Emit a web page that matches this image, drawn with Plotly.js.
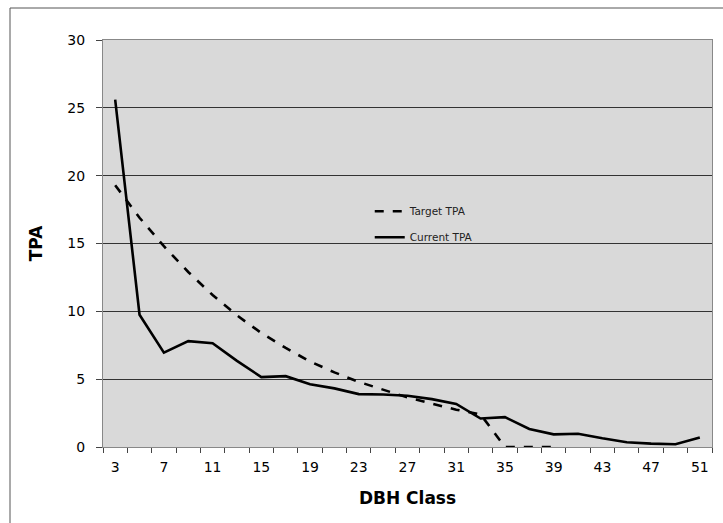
<!DOCTYPE html>
<html>
<head>
<meta charset="utf-8">
<script src="https://cdn.plot.ly/plotly-3.0.1.min.js"></script>
<style>
html,body{margin:0;padding:0;background:#fff;}
#chart{width:723px;height:523px;}
</style>
</head>
<body>
<div id="chart"></div>
<script>
const dbhClasses = [3,5,7,9,11,13,15,17,19,21,23,25,27,29,31,33,35,37,39,41,43,45,47,49,51];
const currentTPA = [25.6,9.75,6.95,7.8,7.65,6.35,5.15,5.22,4.62,4.32,3.9,3.87,3.78,3.53,3.17,2.1,2.2,1.33,0.93,0.98,0.64,0.35,0.25,0.2,0.7];
const targetClasses = [3,5,7,9,11,13,15,17,19,21,23,25,27,29,31,33,35,37,39];
const targetTPA = [19.3,16.9,14.8,12.9,11.2,9.7,8.4,7.3,6.3,5.5,4.8,4.2,3.65,3.2,2.75,2.4,0,0,0];
const xLabelVals = [3,7,11,15,19,23,27,31,35,39,43,47,51];
const yTickVals = [0,5,10,15,20,25,30];

const font = "DejaVu Sans, sans-serif";

const traces = [
  {x: targetClasses, y: targetTPA, name: 'Target TPA', mode: 'lines', legendgroup: 'a',
   line: {color: '#000', width: 2.6, dash: 'dash'}},
  {x: dbhClasses, y: currentTPA, name: 'Current TPA', mode: 'lines', legendgroup: 'b',
   line: {color: '#000', width: 2.6}}
];

const layout = {
  width: 723, height: 523,
  margin: {l: 103, r: 11, t: 40, b: 76},
  paper_bgcolor: '#fff',
  plot_bgcolor: '#d9d9d9',
  font: {family: font, color: '#000'},
  showlegend: true,
  legend: {x: 0.438, y: 0.615, xanchor: 'left', yanchor: 'top', traceorder: 'grouped',
    bgcolor: 'rgba(0,0,0,0)', font: {size: 10.5, family: font, color: '#222'},
    tracegroupgap: 7},
  xaxis: {
    range: [2, 52], showgrid: false, zeroline: false,
    tickmode: 'array', tickvals: xLabelVals, ticktext: xLabelVals.map(String),
    ticks: '', ticklen: 0, tickfont: {size: 14, family: font},
    ticklabelstandoff: 7,
    showline: true, linecolor: '#888', linewidth: 1,
    minor: {tick0: 2, dtick: 2, ticks: 'outside', ticklen: 5, tickcolor: '#444', tickwidth: 1, showgrid: false},
    title: {text: '<b>DBH Class</b>', font: {size: 17, family: font}, standoff: 18},
    mirror: true
  },
  yaxis: {
    range: [0, 30], tickmode: 'array', tickvals: yTickVals,
    showgrid: true, gridcolor: '#333', gridwidth: 1, zeroline: false,
    ticks: 'outside', ticklen: 6, tickcolor: '#444',
    tickfont: {size: 14, family: font}, ticklabelstandoff: 8,
    showline: true, linecolor: '#888', linewidth: 1, mirror: true,
    title: {text: '<b>TPA</b>', font: {size: 17, family: font}, standoff: 20}
  },
  shapes: [
    {type: 'line', xref: 'paper', yref: 'paper', x0: -0.1527, x1: -0.1527, y0: 1.0786, y1: -0.2,
     line: {color: '#555', width: 1}},
    {type: 'line', xref: 'paper', yref: 'paper', x0: -0.1527, x1: 1.03, y0: 1.0786, y1: 1.0786,
     line: {color: '#555', width: 1}}
  ]
};

Plotly.newPlot('chart', traces, layout, {displayModeBar: false, staticPlot: true});
</script>
</body>
</html>
